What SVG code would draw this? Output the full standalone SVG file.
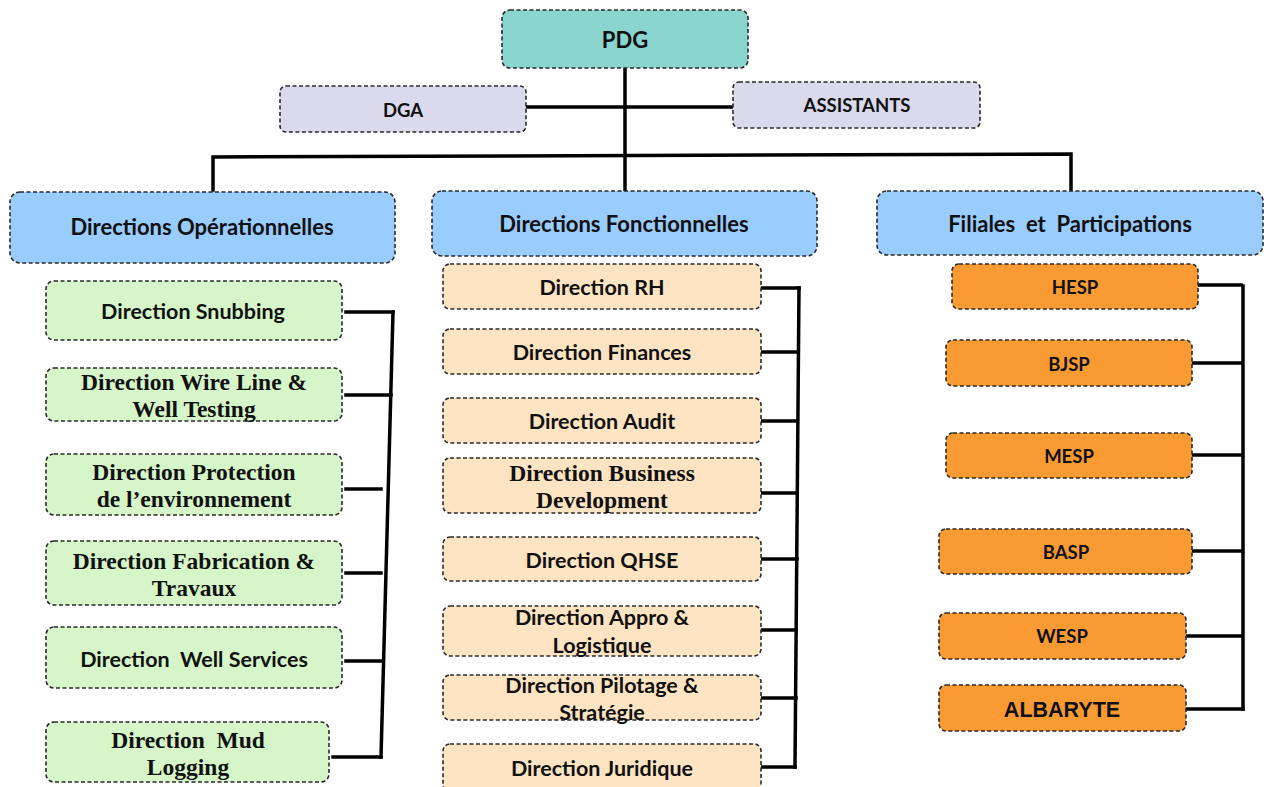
<svg xmlns="http://www.w3.org/2000/svg" width="1264" height="787" viewBox="0 0 1264 787">
<style>
.box{stroke:#2a2a2a;stroke-width:1.6;stroke-dasharray:4 2.5}
.pdg{fill:#8BD5CF}
.dga{fill:#DADAEC}
.hdr{fill:#99CCFF}
.grn{fill:#D6F6C9}
.bei{fill:#FEE4C2}
.org{fill:#FA9A33}
.s{font-family:Lato,"Open Sans","Liberation Sans",sans-serif;font-weight:bold;fill:#111;text-anchor:middle;font-size:21.5px}
.r{font-family:"Liberation Serif","DejaVu Serif",serif;font-weight:bold;fill:#111;text-anchor:middle;font-size:23.5px}
.a{font-family:"Liberation Sans",Arial,sans-serif;font-weight:bold;fill:#111;text-anchor:middle}
.ln{stroke:#000;stroke-width:3.5;fill:none;stroke-linecap:square}
</style>
<rect width="1264" height="787" fill="#fff"/>
<g id="connectors">
<path class="ln" d="M625,68 V190"/>
<path class="ln" d="M526,107 H733"/>
<path class="ln" d="M213,190 V157 L1071,154 V190"/>
<path class="ln" d="M393,312 L381,757"/>
<path class="ln" d="M346,312 H393 M346,395 H391 M346,489 H381 M346,573 H381 M346,661 H382 M333,757 H381"/>
<path class="ln" d="M799,288 L795,767"/>
<path class="ln" d="M762,288 H799 M762,352 H798 M762,421 H797 M762,493 H795 M762,559 H797 M762,630 H796 M762,698 H796 M762,767 H795"/>
<path class="ln" d="M1243,286 V709"/>
<path class="ln" d="M1197,285 H1241 M1193,363 H1241 M1193,455 H1241 M1193,551 H1241 M1187,636 H1241 M1187,709 H1243"/>
</g>
<g id="pdg"><rect class="box pdg" x="502" y="10" width="246" height="58" rx="8"/><text class="s" x="625" y="48" style="font-size:22px">PDG</text></g>
<g id="dga"><rect class="box dga" x="280" y="86" width="246" height="46" rx="6"/><text class="s" x="403" y="117" style="font-size:18.5px">DGA</text></g>
<g id="assistants"><rect class="box dga" x="733" y="82" width="247" height="46" rx="6"/><text class="s" x="857" y="112" style="font-size:18.5px">ASSISTANTS</text></g>
<g id="h-op"><rect class="box hdr" x="10" y="192" width="385" height="71" rx="10"/><text class="s" x="202" y="235" style="font-size:22px">Directions Opérationnelles</text></g>
<g id="h-fo"><rect class="box hdr" x="432" y="191" width="385" height="65" rx="10"/><text class="s" x="624" y="232" style="font-size:22px">Directions Fonctionnelles</text></g>
<g id="h-fi"><rect class="box hdr" x="877" y="191" width="386" height="64" rx="10"/><text class="s" x="1070" y="232" style="font-size:22px" xml:space="preserve">Filiales  et  Participations</text></g>

<g id="op1"><rect class="box grn" x="46" y="281" width="296" height="59" rx="8"/><text class="s" x="193" y="319">Direction Snubbing</text></g>
<g id="op2"><rect class="box grn" x="46" y="368" width="296" height="53" rx="8"/><text class="r" x="194" y="390">Direction Wire Line &amp;</text><text class="r" x="194" y="417">Well Testing</text></g>
<g id="op3"><rect class="box grn" x="46" y="454" width="296" height="61" rx="8"/><text class="r" x="194" y="480">Direction Protection</text><text class="r" x="194" y="507">de l’environnement</text></g>
<g id="op4"><rect class="box grn" x="46" y="541" width="296" height="64" rx="8"/><text class="r" x="194" y="569">Direction Fabrication &amp;</text><text class="r" x="194" y="596">Travaux</text></g>
<g id="op5"><rect class="box grn" x="46" y="627" width="296" height="61" rx="8"/><text class="s" x="194" y="667" xml:space="preserve">Direction  Well Services</text></g>
<g id="op6"><rect class="box grn" x="46" y="722" width="283" height="60" rx="8"/><text class="r" x="188" y="748" xml:space="preserve">Direction  Mud</text><text class="r" x="188" y="775">Logging</text></g>

<g id="fo1"><rect class="box bei" x="443" y="264" width="318" height="45" rx="7"/><text class="s" x="602" y="295">Direction RH</text></g>
<g id="fo2"><rect class="box bei" x="443" y="329" width="318" height="45" rx="7"/><text class="s" x="602" y="360">Direction Finances</text></g>
<g id="fo3"><rect class="box bei" x="443" y="398" width="318" height="45" rx="7"/><text class="s" x="602" y="429">Direction Audit</text></g>
<g id="fo4"><rect class="box bei" x="443" y="458" width="318" height="55" rx="7"/><text class="r" x="602" y="481">Direction Business</text><text class="r" x="602" y="508">Development</text></g>
<g id="fo5"><rect class="box bei" x="443" y="537" width="318" height="44" rx="7"/><text class="s" x="602" y="568">Direction QHSE</text></g>
<g id="fo6"><rect class="box bei" x="443" y="606" width="318" height="50" rx="7"/><text class="s" x="602" y="625">Direction Appro &amp;</text><text class="s" x="602" y="653">Logistique</text></g>
<g id="fo7"><rect class="box bei" x="443" y="675" width="318" height="45" rx="7"/><text class="s" x="602" y="693">Direction Pilotage &amp;</text><text class="s" x="602" y="720">Stratégie</text></g>
<g id="fo8"><rect class="box bei" x="443" y="744" width="318" height="48" rx="7"/><text class="s" x="602" y="776">Direction Juridique</text></g>

<g id="fi1"><rect class="box org" x="952" y="264" width="246" height="45" rx="7"/><text class="s" x="1075" y="294" style="font-size:18.5px">HESP</text></g>
<g id="fi2"><rect class="box org" x="946" y="340" width="246" height="46" rx="7"/><text class="s" x="1069" y="371" style="font-size:18.5px">BJSP</text></g>
<g id="fi3"><rect class="box org" x="946" y="433" width="246" height="45" rx="7"/><text class="s" x="1069" y="463" style="font-size:18.5px">MESP</text></g>
<g id="fi4"><rect class="box org" x="939" y="529" width="253" height="45" rx="7"/><text class="s" x="1066" y="559" style="font-size:18.5px">BASP</text></g>
<g id="fi5"><rect class="box org" x="939" y="613" width="247" height="46" rx="7"/><text class="s" x="1062" y="643" style="font-size:18.5px">WESP</text></g>
<g id="fi6"><rect class="box org" x="939" y="685" width="247" height="46" rx="7"/><text class="a" x="1062" y="717" font-size="21.5">ALBARYTE</text></g>
</svg>
